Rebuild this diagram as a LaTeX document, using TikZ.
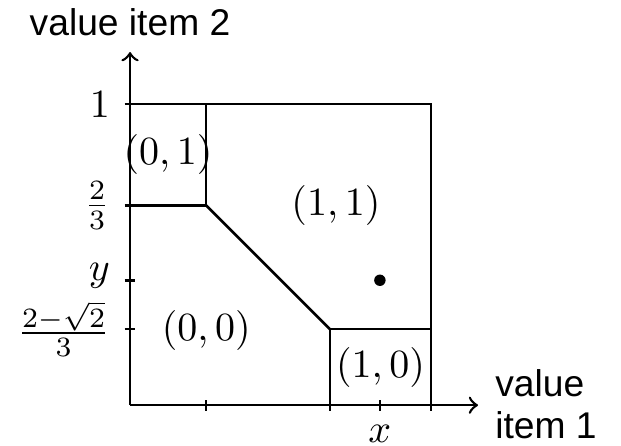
\documentclass[tikz,border=0pt]{standalone}
\usepackage{fontspec}
\setsansfont{Liberation Sans}
\usepackage{tikz}

\begin{document}
\begin{tikzpicture}[x=75.25pt,y=75.25pt,line width=.65pt]
\path[use as bounding box] (-0.432,-0.133) rectangle (1.631,1.346);
% axes
\draw[->] (0,0) -- (1.156,0);
\draw[->] (0,0) -- (0,1.173);
\node[font=\sffamily\fontsize{9.3}{10.4}\selectfont] (ylab) at (0,1.272) {value item 2};
\node[font=\sffamily\fontsize{9.3}{10.4}\selectfont,anchor=west,align=left,inner sep=1pt] (xlab) at (1.196,0.004) {value\\item 1};
% ticks
\foreach \t in {0.2525,0.664,0.83,1} \draw (\t,-0.018) -- (\t,0.018);
\foreach \t in {0.2525,0.415,0.664,1} \draw (-0.018,\t) -- (0.018,\t);
\node[anchor=east] (one) at (-0.018,1) {$1$};
\node[anchor=east] (twothirds) at (-0.018,0.664) {$\frac{2}{3}$};
\node[anchor=east] (yval) at (-0.018,0.43) {$y$};
\node[anchor=east] (low) at (-0.018,0.2525) {$\frac{2-\sqrt{2}}{3}$};
\node[anchor=north] (xval) at (0.83,-0.018) {$x$};
% regions
\draw (0,1) -- (1,1) -- (1,0);
\draw (0.2525,1) -- (0.2525,0.664) -- (0,0.664);
\draw (0.2525,0.664) -- (0.664,0.2525);
\draw (0.664,0) -- (0.664,0.2525) -- (1,0.2525);
\node (r01) at (0.126,0.832) {$(0,1)$};
\node (r11) at (0.684,0.664) {$(1,1)$};
\node (r00) at (0.253,0.249) {$(0,0)$};
\node (r10) at (0.832,0.126) {$(1,0)$};
\fill (0.83,0.415) circle (0.019);
\end{tikzpicture}
\end{document}
